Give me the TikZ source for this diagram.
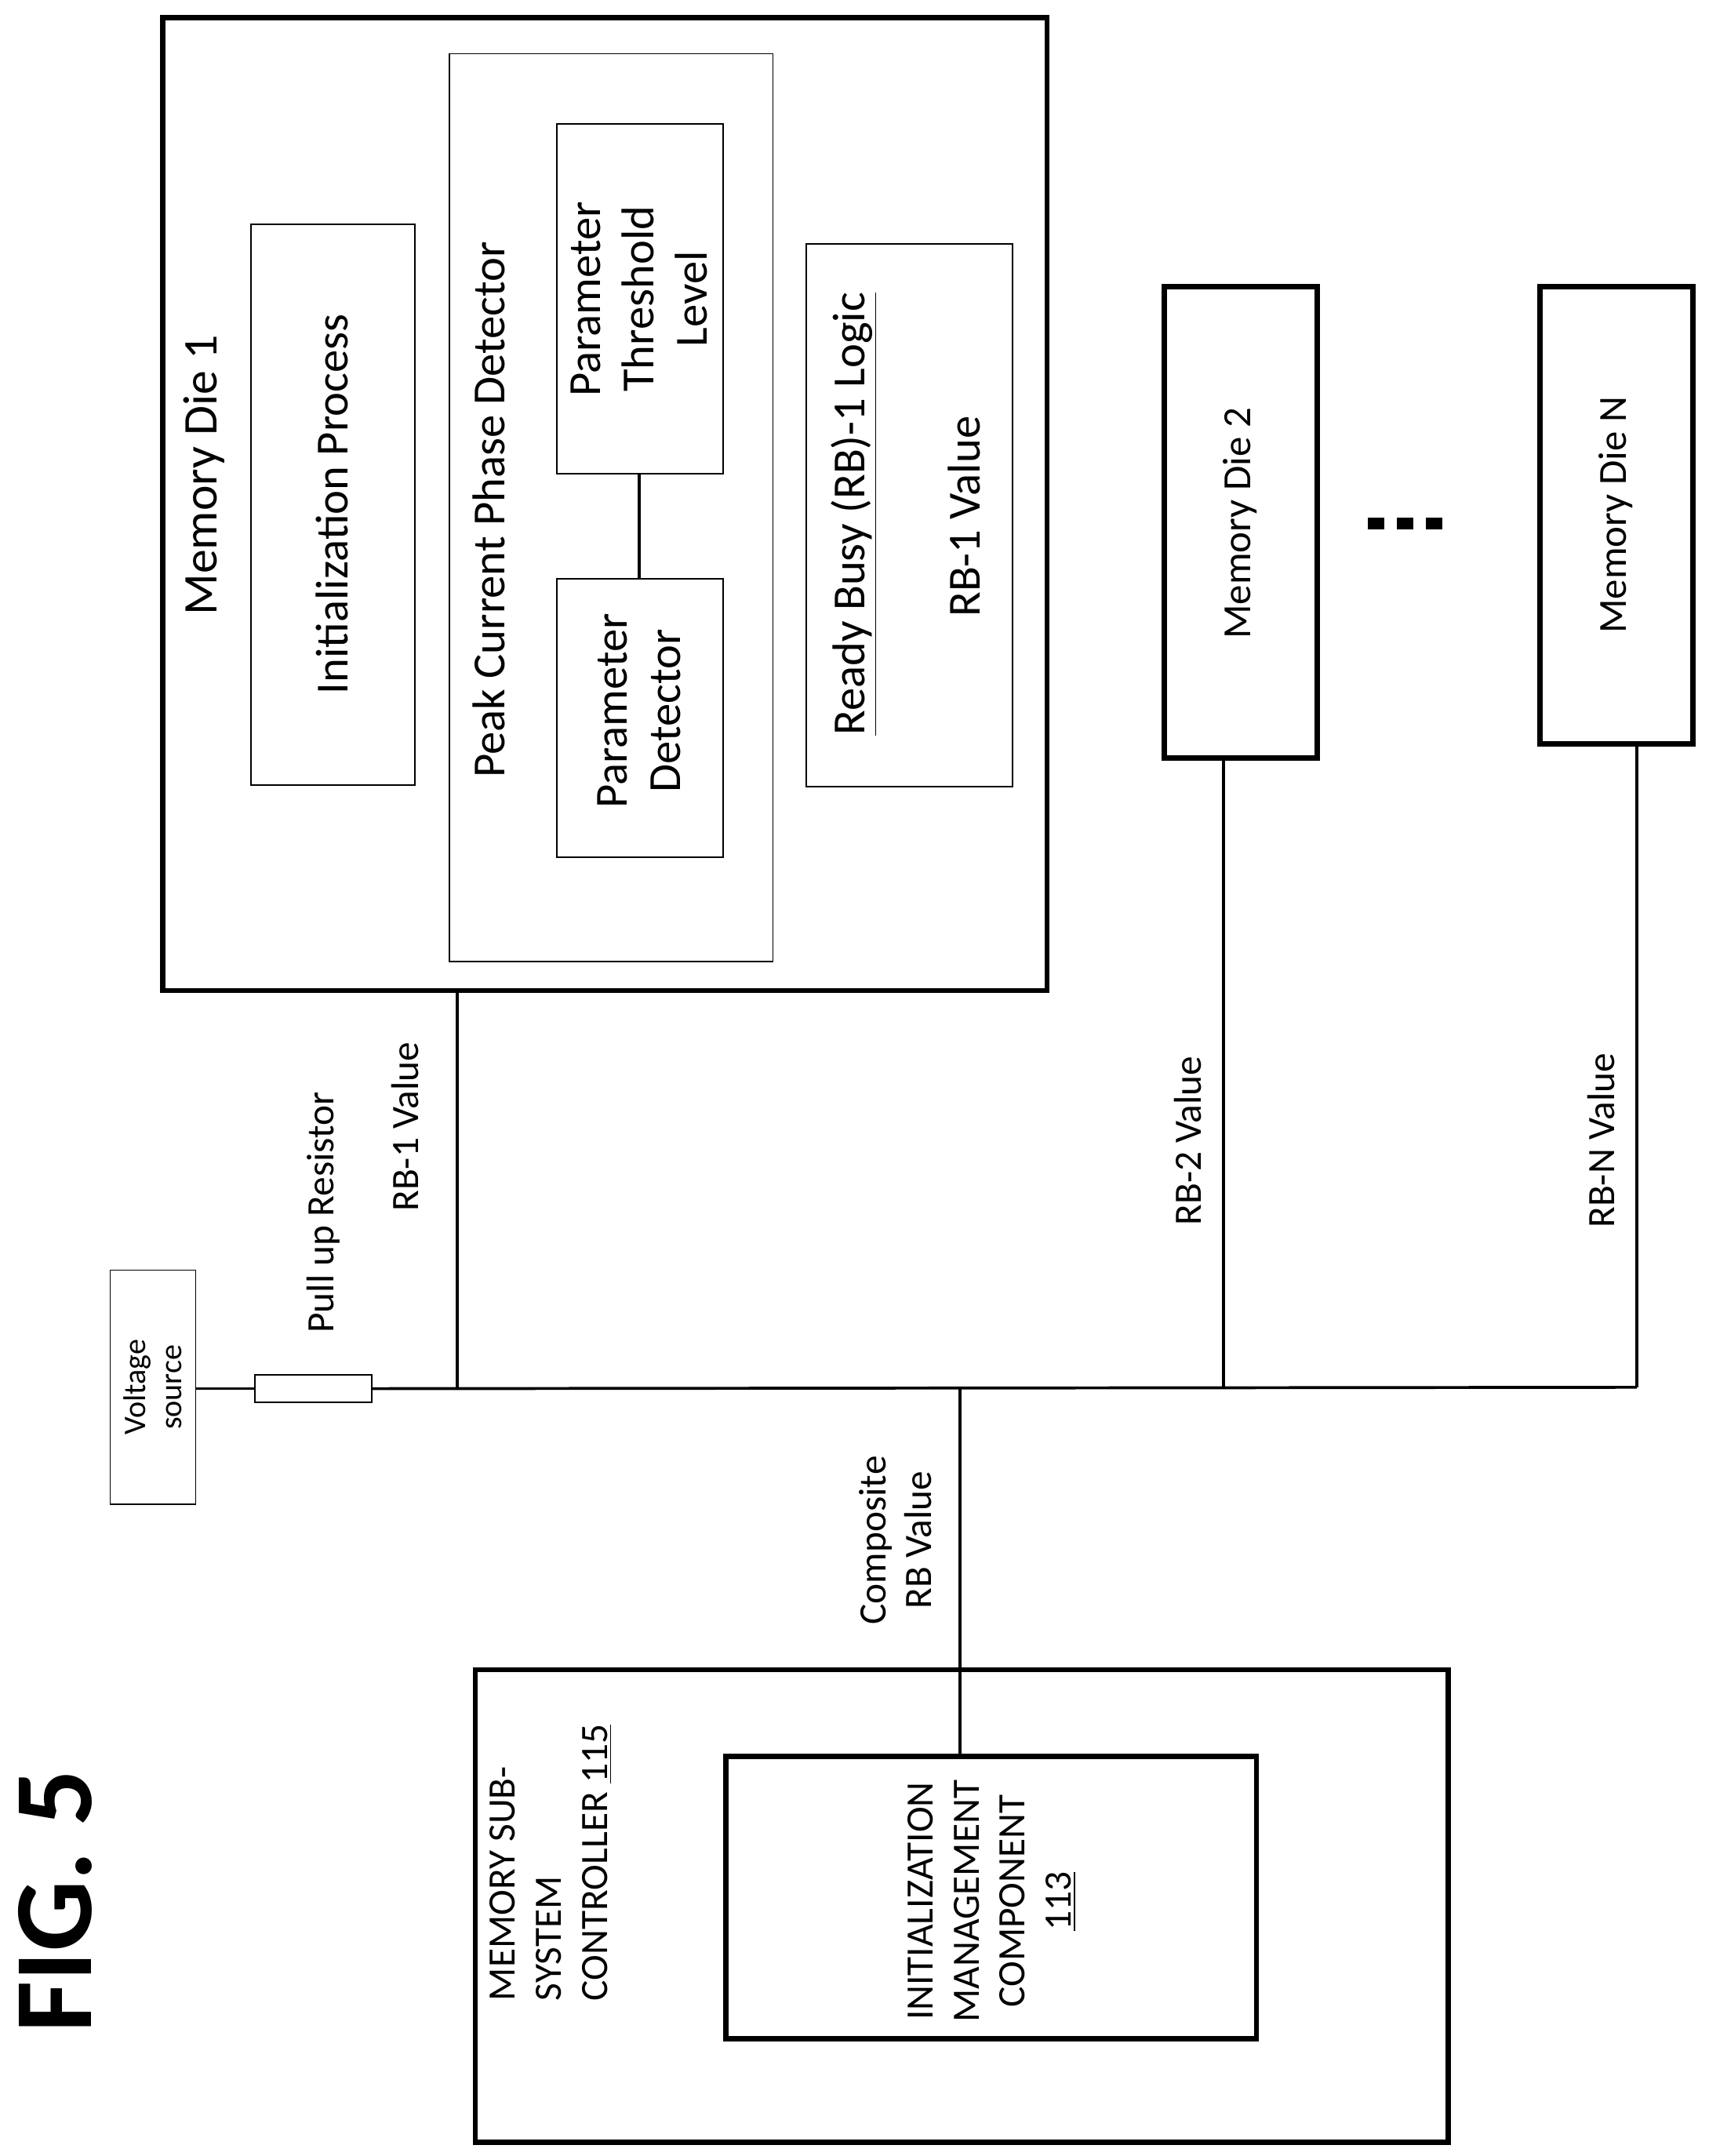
\documentclass[tikz,border=0pt]{standalone}
\usepackage{fontspec}
\setmainfont{Carlito}
\begin{document}
\begin{tikzpicture}[x=0.02cm,y=-0.02cm,
 thin box/.style={draw,line width=0.6pt},
 thick box/.style={draw,line width=2.2pt},
 wire/.style={line width=1.2pt},
 rt/.style={rotate=90,align=center,font=\fontsize{19}{22}\selectfont},
 lab/.style={rotate=90,align=center,font=\fontsize{16}{19}\selectfont}]
\useasboundingbox (0,0) rectangle (1240,1565);
% Memory die 1
\draw[thick box] (118,13) rectangle (760,719);
\node[rt,font=\fontsize{20}{23}\selectfont] (md1) at (148,345) {Memory Die 1};
\draw[thin box] (182,163) rectangle (301,570);
\node[rt] (ip) at (241,366) {Initialization Process};
\draw[thin box] (326,39) rectangle (561,698);
\node[rt] (pc) at (355,370) {Peak Current Phase Detector};
\draw[thin box] (404,90) rectangle (525,344);
\node[rt] (ptl) at (464,217) {Parameter\\Threshold\\Level};
\draw[thin box] (404,420) rectangle (525,622);
\node[rt] (pd) at (464,516) {Parameter\\Detector};
\coordinate (ptlb) at (464,344); \coordinate (pdt) at (464,420);
\draw[wire] (ptlb) -- (pdt);
\draw[thin box] (585,177) rectangle (735,571);
\node[rt] (rbl) at (620,373) {\underline{Ready Busy (RB)-1 Logic}};
\node[rt] (rbv) at (700,375) {RB-1 Value};
% other dies
\draw[thick box] (845,208) rectangle (956,550);
\node[rt,font=\fontsize{16.5}{19}\selectfont] (md2) at (900,380) {Memory Die 2};
\draw[thick box] (1118,208) rectangle (1229,540);
\node[rt,font=\fontsize{16.5}{19}\selectfont] (mdn) at (1173,374) {Memory Die N};
\foreach \x in {999,1020,1041} \draw[line width=5pt] (\x-6,380) -- (\x+6,380);
% bus
\coordinate (d1b) at (332,719); \coordinate (j1) at (332,1007);
\coordinate (d2b) at (888,550); \coordinate (j2) at (888,1007);
\coordinate (dnb) at (1188,540); \coordinate (j3) at (1188,1007);
\coordinate (jc) at (697,1007); \coordinate (ct) at (697,1275);
\coordinate (rr) at (270,1008); \coordinate (rl) at (185,1008); \coordinate (vs) at (142,1008);
\draw[wire] (rr) -- (j3);
\draw[wire] (d1b) -- (j1);
\draw[wire] (d2b) -- (j2);
\draw[wire] (dnb) -- (j3);
\draw[wire] (jc) -- (ct);
\draw[wire] (vs) -- (rl);
\draw[thin box] (185,998) rectangle (270,1018);
\draw[thin box] (80,922) rectangle (142,1092);
\node[lab,font=\fontsize{13}{15}\selectfont] (vsl) at (111,1007) {Voltage\\source};
\node[lab] (pur) at (235,880) {Pull up Resistor};
\node[lab] (rb1) at (294,818) {RB-1 Value};
\node[lab] (rb2) at (862,828) {RB-2 Value};
\node[lab] (rbn) at (1162,828) {RB-N Value};
\node[lab] (crb) at (650,1118) {Composite\\RB Value};
% controller
\draw[thick box] (345,1212) rectangle (1051,1555);
\node[lab,align=left] (msc) at (400,1352) {MEMORY SUB-\\SYSTEM\\CONTROLLER \underline{115}};
\draw[thick box] (527,1275) rectangle (912,1480);
\node[lab] (imc) at (720,1380) {INITIALIZATION\\MANAGEMENT\\COMPONENT\\\underline{113}};
\node[rotate=90,font=\bfseries\fontsize{46}{50}\selectfont] (fig) at (40,1380) {FIG. 5};
\end{tikzpicture}
\end{document}
